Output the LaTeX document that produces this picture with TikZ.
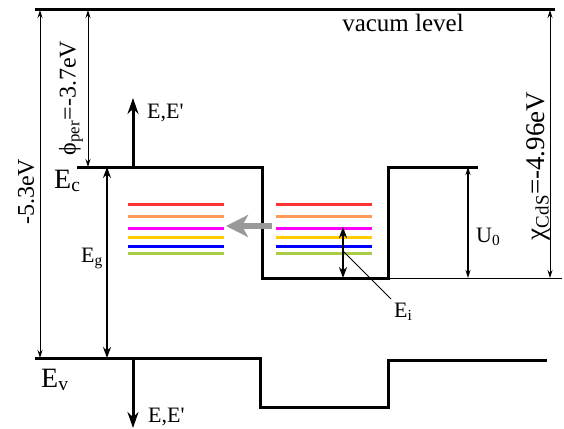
\documentclass[tikz,border=0pt]{standalone}
\usepackage{fontspec}
\setmainfont{Liberation Serif}
\newfontfamily\qfont{Liberation Serif}[Ligatures=TeXOff]
\usetikzlibrary{arrows.meta}
\definecolor{lvred}{RGB}{255,51,51}
\definecolor{lvorange}{RGB}{255,153,85}
\definecolor{lvmag}{RGB}{255,0,255}
\definecolor{lvyel}{RGB}{255,204,0}
\definecolor{lvblue}{RGB}{0,0,255}
\definecolor{lvgreen}{RGB}{170,204,68}
\definecolor{arrgray}{RGB}{153,153,153}
\begin{document}
\begin{tikzpicture}[x=1pt,y=-1pt,
  band/.style={line width=3pt,line join=miter},
  thinline/.style={line width=1pt},
  dimthin/.style={line width=1pt,{Stealth[length=8pt,width=5pt]}-{Stealth[length=8pt,width=5pt]}},
  dimthick/.style={line width=2pt,{Stealth[length=11pt,width=8pt]}-{Stealth[length=11pt,width=8pt]}},
  earrow/.style={line width=3pt,-{Stealth[length=16pt,width=11pt]}},
  lvl/.style={line width=3pt},
  lbl/.style={inner sep=0pt,font=\fontsize{24}{28}\selectfont},
]
\useasboundingbox (0,0) rectangle (564,428);
% key points
\coordinate (vacL) at (35,10);
\coordinate (vacR) at (555,10);
\coordinate (ecL) at (77,167);
\coordinate (ec1) at (262,167);
\coordinate (ec2) at (262,278);
\coordinate (ec3) at (388,278);
\coordinate (ec4) at (388,167);
\coordinate (ecR) at (478,167);
\coordinate (baseR) at (562,278);
\coordinate (evL) at (35,358);
\coordinate (ev1) at (260,358);
\coordinate (ev2) at (260,407);
\coordinate (ev3) at (388,407);
\coordinate (ev4) at (388,360);
\coordinate (evR) at (547,360);
% bands
\draw[band] (vacL) -- (vacR);
\draw[band] (ecL) -- (ec1) -- (ec2) -- (ec3) -- (ec4) -- (ecR);
\draw[thinline] (ec3) -- (baseR);
\draw[band] (evL) -- (ev1) -- (ev2) -- (ev3) -- (ev4) -- (evR);
% dimension arrows
\coordinate (a1t) at (40,10);   \coordinate (a1b) at (40,358);
\coordinate (a2t) at (88,10);   \coordinate (a2b) at (88,167);
\coordinate (a3t) at (107,167); \coordinate (a3b) at (107,358);
\coordinate (a4t) at (468,167); \coordinate (a4b) at (468,278);
\coordinate (a5t) at (550,10);  \coordinate (a5b) at (550,278);
\coordinate (a6t) at (343,227); \coordinate (a6b) at (343,278);
\draw[dimthin] (a1t) -- (a1b);
\draw[dimthin] (a2t) -- (a2b);
\draw[dimthick] (a3t) -- (a3b);
\draw[dimthin,line width=1.3pt] (a4t) -- (a4b);
\draw[dimthin] (a5t) -- (a5b);
% E,E' arrows
\coordinate (up0) at (133,167); \coordinate (up1) at (133,98);
\coordinate (dn0) at (133,358); \coordinate (dn1) at (133,428);
\draw[earrow] (up0) -- (up1);
\draw[earrow] (dn0) -- (dn1);
% levels
\foreach \y/\c in {204/lvred,216/lvorange,228/lvmag,237/lvyel,246/lvblue,253/lvgreen}{
  \draw[lvl,\c] (128,\y) -- (224,\y);
  \draw[lvl,\c] (276,\y) -- (372,\y);
}
\draw[dimthick] (a6t) -- (a6b);
% gray arrow
\coordinate (g0) at (272,226); \coordinate (g1) at (226,226);
\draw[arrgray,line width=6pt,-{Stealth[length=22pt,width=22pt,inset=6pt]}] (g0) -- (g1);
% Ei leader
\coordinate (ld0) at (343,251);
\node[lbl,anchor=base west,font=\fontsize{22}{26}\selectfont] (ei) at (394,317) {E\textsubscript{i}};
\draw[thinline] (ld0) -- (391,299);
% labels
\node[lbl,font=\fontsize{25}{28}\selectfont] (vac) at (403,23) {vacum level};
\node[lbl,rotate=90] (phi) at (71,98) {ϕ\textsubscript{per}=-3.7eV};
\node[lbl,rotate=90] (w53) at (26,192) {-5.3eV};
\node[lbl,rotate=90,font=\fontsize{27}{30}\selectfont] (chi) at (538,166) {χ\textsubscript{CdS}=-4.96eV};
\node[lbl,anchor=base west,font=\fontsize{28}{30}\selectfont] (ec) at (54,188) {E\textsubscript{c}};
\node[lbl,anchor=base west,font=\fontsize{28}{30}\selectfont] (ev) at (41,387) {E\textsubscript{v}};
\node[lbl,anchor=base west,font=\fontsize{22}{26}\selectfont] (eg) at (81,262) {E\textsubscript{g}};
\node[lbl,anchor=base west,font=\fontsize{22}{26}\selectfont] (u0) at (476,242) {U\textsubscript{0}};
\node[lbl,anchor=base west,font=\fontsize{22}{26}\selectfont] (eu) at (147,118) {E,E{\qfont '}};
\node[lbl,anchor=base west,font=\fontsize{22}{26}\selectfont] (ed) at (148,422) {E,E{\qfont '}};
\end{tikzpicture}
\end{document}
